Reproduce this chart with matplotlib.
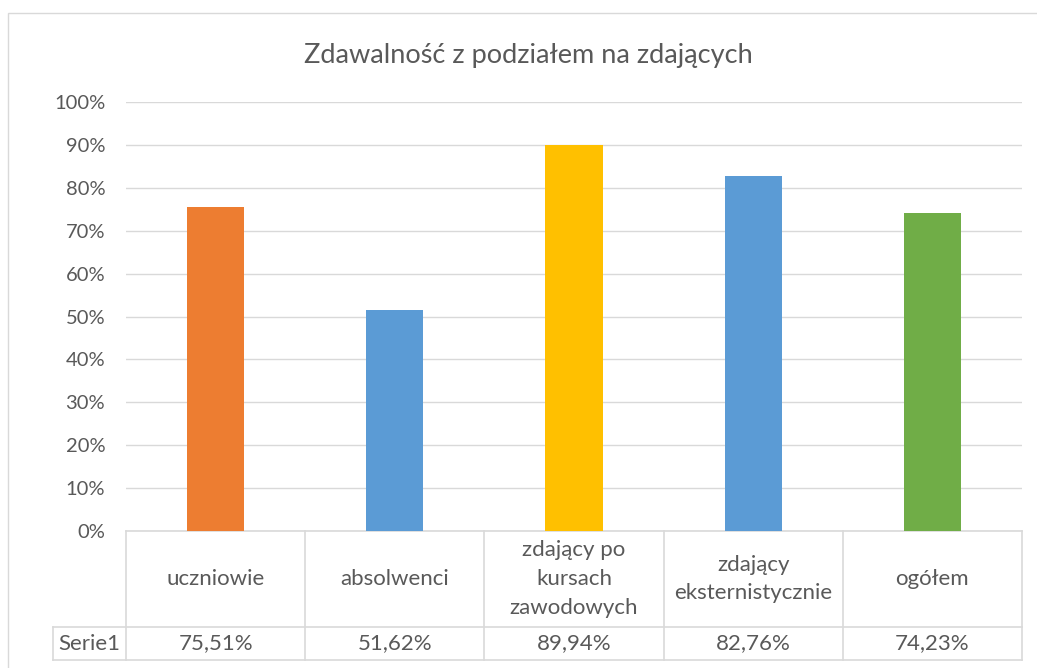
import matplotlib
matplotlib.use("Agg")
import matplotlib.pyplot as plt
from matplotlib.patches import Rectangle
from matplotlib.lines import Line2D

categories = ["uczniowie", "absolwenci", "zdający po\nkursach\nzawodowych",
              "zdający\neksternistycznie", "ogółem"]
values = [75.51, 51.62, 89.94, 82.76, 74.23]
value_labels = ["75,51%", "51,62%", "89,94%", "82,76%", "74,23%"]
series_name = "Serie1"
colors = ["#ED7D31", "#5B9BD5", "#FFC000", "#5B9BD5", "#70AD47"]
yticks = list(range(0, 101, 10))
title = "Zdawalność z podziałem na zdających"

plt.rcParams['font.family'] = ['Lato', 'DejaVu Sans']
txt = "#595959"
grid = "#D9D9D9"
fs_tick = 14.5
fs = 16

W, H = 1037, 668
fig = plt.figure(figsize=(W / 100, H / 100), dpi=100)

# chart border
fig.patches.append(Rectangle((8 / W, -0.01), 1.2, 1 - 13 / H + 0.01,
                             transform=fig.transFigure, fill=False,
                             edgecolor=grid, linewidth=1))

ax = fig.add_axes([126 / W, (H - 531) / H, (1022 - 126) / W, (531 - 102) / H])
x = list(range(len(categories)))
ax.bar(x, values, width=0.32, color=colors, zorder=3)
ax.set_xlim(-0.5, len(categories) - 0.5)
ax.set_ylim(0, 100)
ax.set_yticks(yticks)
ax.set_yticklabels([f"{t}%" for t in yticks], color=txt, fontsize=fs_tick)
ax.tick_params(axis='y', length=0, pad=15)
ax.set_xticks([])
ax.yaxis.grid(True, color=grid, linewidth=1, zorder=0)
for s in ax.spines.values():
    s.set_visible(False)

fig.text(528.5 / W, (H - 55) / H, title, ha='center', va='center', fontsize=19.5, color=txt)

# data table
tr = ax.get_xaxis_transform()
ah = 531 - 102
r1 = -96 / ah
r2 = -129 / ah
left_ext = (53 - 126) / 179.2 - 0.5
n = len(categories)
lw = 1.2
def hl(x0, x1, y):
    ax.add_line(Line2D([x0, x1], [y, y], transform=tr, color=grid, lw=lw, clip_on=False))
def vl(xx, y0, y1):
    ax.add_line(Line2D([xx, xx], [y0, y1], transform=tr, color=grid, lw=lw, clip_on=False))
hl(-0.5, n - 0.5, 0)
hl(left_ext, n - 0.5, r1)
hl(left_ext, n - 0.5, r2)
for i in range(n + 1):
    vl(i - 0.5, 0, r2)
vl(left_ext, r1, r2)
for i, (c, v) in enumerate(zip(categories, value_labels)):
    ax.text(i, r1 / 2, c, transform=tr, ha='center', va='center', fontsize=fs,
            color=txt, linespacing=1.56)
    ax.text(i, (r1 + r2) / 2, v, transform=tr, ha='center', va='center',
            fontsize=fs, color=txt)
ax.text((left_ext - 0.5) / 2, (r1 + r2) / 2, series_name, transform=tr,
        ha='center', va='center', fontsize=fs, color=txt)

fig.savefig("out.png", dpi=100)
